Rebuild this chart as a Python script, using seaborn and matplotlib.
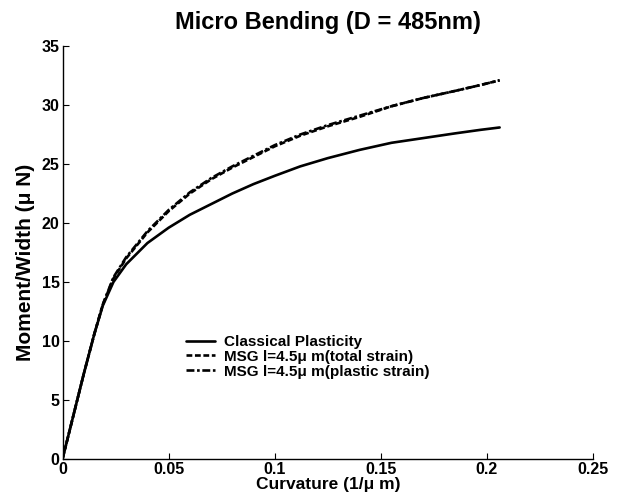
import matplotlib
matplotlib.use("Agg")
import matplotlib.pyplot as plt
import matplotlib.ticker as ticker
import seaborn as sns
import pandas as pd

# curvature (1/um) and moment/width (uN)
curv = [0, 0.005, 0.01, 0.015, 0.019, 0.024, 0.03, 0.04, 0.05, 0.06, 0.07,
        0.08, 0.09, 0.1, 0.112, 0.125, 0.14, 0.155, 0.17, 0.185, 0.197, 0.206]
classical = [0, 3.6, 7.2, 10.6, 13.0, 15.0, 16.5, 18.3, 19.6, 20.7, 21.6,
             22.5, 23.3, 24.0, 24.8, 25.5, 26.2, 26.8, 27.2, 27.6, 27.9, 28.1]
msg_total = [0, 3.6, 7.2, 10.6, 13.1, 15.3, 17.0, 19.2, 21.0, 22.5, 23.7,
             24.7, 25.6, 26.5, 27.4, 28.2, 29.0, 29.9, 30.6, 31.2, 31.7, 32.1]
msg_plastic = [0, 3.6, 7.2, 10.6, 13.1, 15.4, 17.1, 19.3, 21.1, 22.6, 23.8,
               24.8, 25.7, 26.6, 27.5, 28.3, 29.1, 29.9, 30.6, 31.2, 31.7, 32.1]

labels = ["Classical Plasticity",
          "MSG l=4.5\u03bc m(total strain)",
          "MSG l=4.5\u03bc m(plastic strain)"]
styles = ["-", (0, (2.2, 1.0)), (0, (3, 1.0, 1, 1.0))]

x_ticks = [0, 0.05, 0.1, 0.15, 0.2, 0.25]
y_ticks = [0, 5, 10, 15, 20, 25, 30, 35]

sns.set_style("ticks")
plt.rcParams["font.family"] = ["Liberation Sans", "DejaVu Sans"]
plt.rcParams.update({
    "font.weight": "bold",
    "text.color": "black",
    "axes.labelcolor": "black",
    "axes.edgecolor": "black",
    "xtick.color": "black",
    "ytick.color": "black",
})

fig = plt.figure(figsize=(6.19, 5.01), dpi=100)
ax = fig.add_axes([0.101, 0.084, 0.857, 0.824])

for ys, lab, ls in zip([classical, msg_total, msg_plastic], labels, styles):
    df = pd.DataFrame({"x": curv, "y": ys})
    sns.lineplot(data=df, x="x", y="y", ax=ax, color="black",
                 linewidth=1.9, linestyle=ls, label=lab)

ax.set_xlim(0, 0.25)
ax.set_ylim(0, 35)
ax.set_xticks(x_ticks)
ax.set_yticks(y_ticks)
ax.xaxis.set_major_formatter(ticker.FuncFormatter(lambda v, p: "%g" % v))
ax.tick_params(direction="in", length=4, width=0.8, labelsize=11.5, pad=2)
for t in ax.get_xticklabels() + ax.get_yticklabels():
    t.set_fontweight("bold")
ax.spines["top"].set_visible(False)
ax.spines["right"].set_visible(False)
ax.spines["left"].set_linewidth(1.0)
ax.spines["bottom"].set_linewidth(1.0)

ax.set_xlabel("Curvature (1/\u03bc m)", fontsize=12.5, fontweight="bold",
              labelpad=0)
ax.set_ylabel("Moment/Width (\u03bc N)", fontsize=15, fontweight="bold")
ax.yaxis.set_label_coords(-0.052, 0.477)
ax.set_title("Micro Bending (D = 485nm)", fontsize=17, fontweight="bold",
             pad=12)

leg = ax.legend(loc="upper left", bbox_to_anchor=(0.232, 0.30),
                frameon=False, fontsize=11, handlelength=1.9,
                labelspacing=0.05, handletextpad=0.6, borderaxespad=0,
                borderpad=0)
for t in leg.get_texts():
    t.set_fontweight("bold")

fig.savefig("out.png", dpi=100)
